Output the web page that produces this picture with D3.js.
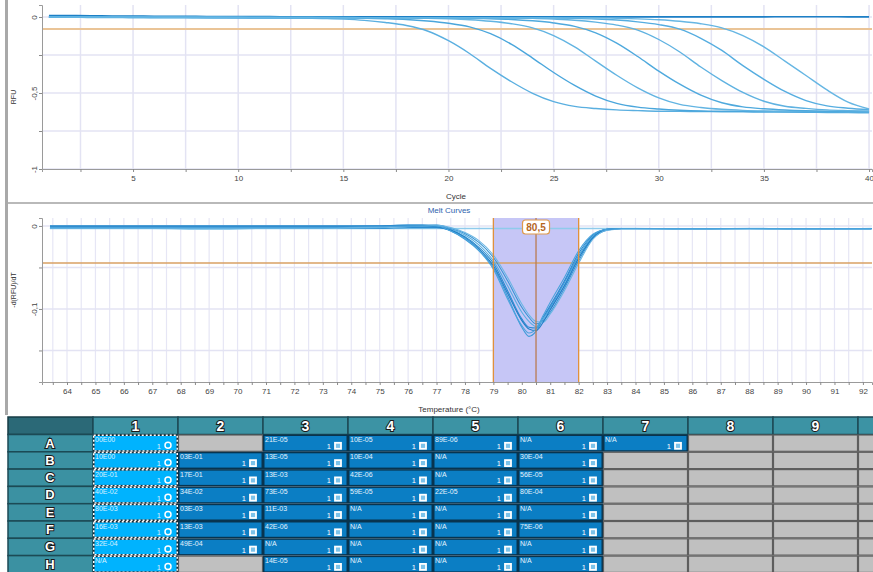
<!DOCTYPE html>
<html>
<head>
<meta charset="utf-8">
<script src="https://cdn.jsdelivr.net/npm/d3@7"></script>
<style>
  body { margin: 0; background: #fff; font-family: "Liberation Sans", Arial, sans-serif; }
  svg { display: block; }
</style>
</head>
<body>
<script>
// ---------- Amplification data (RFU per cycle) ----------
const cycles = [1,2,3,4,5,6,7,8,9,10,11,12,13,14,15,16,17,18,19,20,
                21,22,23,24,25,26,27,28,29,30,31,32,33,34,35,36,37,38,39,40];

const ampA = [-0.002,-0.002,-0.003,-0.003,-0.003,-0.004,-0.004,-0.004,-0.005,-0.005,-0.005,-0.006,-0.007,-0.010,-0.014,-0.022,-0.036,-0.056,-0.092,-0.156,
              -0.240,-0.338,-0.426,-0.502,-0.557,-0.588,-0.602,-0.611,-0.616,-0.620,-0.621,-0.622,-0.623,-0.624,-0.625,-0.626,-0.627,-0.628,-0.629,-0.630];
const ampB = [-0.001,-0.002,-0.002,-0.002,-0.003,-0.003,-0.003,-0.004,-0.004,-0.004,-0.005,-0.005,-0.005,-0.006,-0.006,-0.008,-0.011,-0.016,-0.026,-0.041,
              -0.065,-0.110,-0.180,-0.270,-0.365,-0.450,-0.520,-0.568,-0.593,-0.605,-0.613,-0.618,-0.620,-0.621,-0.622,-0.623,-0.624,-0.625,-0.626,-0.627];
const ampC = [-0.001,-0.001,-0.002,-0.002,-0.002,-0.003,-0.003,-0.003,-0.003,-0.004,-0.004,-0.004,-0.004,-0.005,-0.005,-0.005,-0.005,-0.006,-0.008,-0.012,
              -0.018,-0.028,-0.044,-0.071,-0.122,-0.196,-0.290,-0.383,-0.466,-0.532,-0.575,-0.595,-0.607,-0.614,-0.618,-0.620,-0.621,-0.622,-0.623,-0.624];
const ampD = [-0.001,-0.001,-0.001,-0.002,-0.002,-0.002,-0.002,-0.003,-0.003,-0.003,-0.003,-0.004,-0.004,-0.004,-0.004,-0.005,-0.005,-0.005,-0.005,-0.006,
              -0.008,-0.011,-0.016,-0.025,-0.039,-0.062,-0.104,-0.172,-0.260,-0.356,-0.442,-0.514,-0.564,-0.591,-0.604,-0.612,-0.617,-0.620,-0.621,-0.622];
const ampE = [0.000,-0.001,-0.001,-0.001,-0.002,-0.002,-0.002,-0.002,-0.003,-0.003,-0.003,-0.003,-0.003,-0.004,-0.004,-0.004,-0.004,-0.004,-0.005,-0.005,
              -0.005,-0.006,-0.007,-0.009,-0.014,-0.021,-0.034,-0.053,-0.086,-0.148,-0.230,-0.329,-0.418,-0.496,-0.554,-0.587,-0.601,-0.611,-0.616,-0.620];
const ampF = [0.000,0.000,-0.001,-0.001,-0.001,-0.002,-0.002,-0.002,-0.002,-0.003,-0.003,-0.003,-0.003,-0.003,-0.004,-0.004,-0.004,-0.004,-0.004,-0.005,
              -0.005,-0.005,-0.005,-0.006,-0.007,-0.009,-0.013,-0.020,-0.032,-0.050,-0.080,-0.140,-0.220,-0.320,-0.410,-0.490,-0.550,-0.585,-0.600,-0.610];
const ampG = [0.001,0.000,0.000,-0.001,-0.001,-0.001,-0.002,-0.002,-0.002,-0.002,-0.003,-0.003,-0.003,-0.003,-0.003,-0.004,-0.004,-0.004,-0.004,-0.004,
              -0.005,-0.005,-0.005,-0.005,-0.005,-0.006,-0.006,-0.008,-0.012,-0.018,-0.028,-0.044,-0.071,-0.122,-0.196,-0.290,-0.385,-0.480,-0.560,-0.605];
const ampH = [0.009,0.009,0.008,0.007,0.006,0.005,0.004,0.004,0.003,0.003,0.003,0.002,0.002,0.002,0.002,0.002,0.002,0.002,0.001,0.001,
              0.001,0.001,0.001,0.001,0.001,0.001,0.001,0.001,0.001,0.001,0.001,0.001,0.001,0.001,0.001,0.002,0.002,0.002,0.001,0.001];

const ampSeries = [ampA, ampB, ampC, ampD, ampE, ampF, ampG];
const ampColors = ["#5aafe0", "#4aa6dc", "#62b4e2", "#4ea9dd", "#5fb2e1", "#55ade0", "#66b6e3"];
const ampThreshold = -0.079;
const ampXTicks = [2.5,5,7.5,10,12.5,15,17.5,20,22.5,25,27.5,30,32.5,35,37.5,40];
const ampYTicks = [0,-0.25,-0.5,-0.75,-1];

// ---------- Melt data (-d(RFU)/dT per temperature) ----------
const meltTemps = [63.4,65,67,69,71,73,75,76,76.5,77,77.5,78,78.5,79,79.5,80,80.25,80.5,80.75,81,81.5,82,82.5,83,83.5,84,86,88,90,92.3];

const meltA = [0.000,0.000,0.000,0.000,0.000,0.000,0.000,0.001,0.001,-0.001,-0.006,-0.016,-0.030,-0.050,-0.085,-0.122,-0.133,-0.127,-0.112,-0.098,-0.068,-0.036,-0.012,-0.004,-0.003,-0.003,-0.003,-0.003,-0.003,-0.003];
const meltB = [-0.003,-0.003,-0.003,-0.003,-0.003,-0.003,-0.003,-0.002,-0.002,-0.002,-0.005,-0.013,-0.026,-0.045,-0.078,-0.112,-0.122,-0.123,-0.110,-0.096,-0.066,-0.033,-0.011,-0.004,-0.003,-0.003,-0.004,-0.003,-0.004,-0.004];
const meltC = [0.000,0.000,0.000,0.000,0.000,0.000,0.000,0.000,0.000,0.000,-0.004,-0.011,-0.023,-0.042,-0.072,-0.104,-0.115,-0.121,-0.112,-0.100,-0.071,-0.038,-0.013,-0.004,-0.003,-0.003,-0.003,-0.003,-0.003,-0.003];
const meltD = [-0.001,-0.001,-0.001,-0.001,-0.001,-0.001,0.000,0.001,0.001,0.001,-0.003,-0.009,-0.020,-0.038,-0.066,-0.098,-0.110,-0.118,-0.114,-0.104,-0.075,-0.042,-0.015,-0.005,-0.003,-0.003,-0.003,-0.003,-0.003,-0.003];
const meltE = [-0.003,-0.003,-0.003,-0.003,-0.003,-0.003,-0.002,-0.001,0.000,0.001,-0.002,-0.008,-0.018,-0.035,-0.062,-0.094,-0.107,-0.115,-0.116,-0.106,-0.078,-0.045,-0.016,-0.005,-0.004,-0.004,-0.004,-0.004,-0.004,-0.004];
const meltF = [0.000,0.000,0.000,0.000,0.000,0.000,0.000,0.000,0.000,-0.001,-0.005,-0.014,-0.028,-0.048,-0.081,-0.114,-0.124,-0.126,-0.116,-0.101,-0.072,-0.039,-0.014,-0.004,-0.003,-0.003,-0.003,-0.003,-0.003,-0.003];
const meltG = [-0.002,-0.002,-0.002,-0.002,-0.002,-0.002,-0.001,0.000,0.000,0.000,-0.006,-0.015,-0.030,-0.052,-0.088,-0.120,-0.129,-0.124,-0.108,-0.092,-0.062,-0.030,-0.010,-0.004,-0.003,-0.003,-0.003,-0.003,-0.003,-0.003];
const meltH = [-0.003,-0.003,-0.003,-0.004,-0.003,-0.003,-0.003,-0.003,-0.003,-0.003,-0.003,-0.003,-0.003,-0.003,-0.003,-0.003,-0.003,-0.003,-0.003,-0.003,-0.003,-0.003,-0.003,-0.003,-0.003,-0.003,-0.004,-0.003,-0.004,-0.003];

const meltSeries = [meltA, meltB, meltC, meltD, meltE, meltF, meltG];
const meltColors = ["#3d9ad8", "#2a8bd0", "#58aee0", "#3894d4", "#6bb6e3", "#1f7fc6", "#4aa3dc"];
const meltThreshold = -0.0446;
const meltRange = [79, 82];
const meltPeak = 80.5;
const meltYTicks = [0,-0.05,-0.1,-0.15];

// ---------- Plate data ----------
const plateRows = ["A","B","C","D","E","F","G","H"];
const plateCols = ["1","2","3","4","5","6","7","8","9","10"];
const wellCol1 = ["00E00","10E00","20E-01","40E-02","80E-03","16E-03","32E-04","N/A"];
const wellCol2 = [null,"03E-01","17E-01","34E-02","03E-03","13E-03","49E-04",null];
const wellCol3 = ["21E-05","13E-05","13E-03","73E-05","11E-03","42E-06","N/A","14E-05"];
const wellCol4 = ["10E-05","10E-04","42E-06","59E-05","N/A","N/A","N/A","N/A"];
const wellCol5 = ["89E-06","N/A","N/A","22E-05","N/A","N/A","N/A","N/A"];
const wellCol6 = ["N/A","30E-04","56E-05","80E-04","N/A","75E-06","N/A","N/A"];
const wellCol7 = ["N/A",null,null,null,null,null,null,null];
const wellEmpty = [null,null,null,null,null,null,null,null];
const plateWells = [wellCol1, wellCol2, wellCol3, wellCol4, wellCol5, wellCol6, wellCol7, wellEmpty, wellEmpty, wellEmpty];

// comma decimal like the instrument software
const fmt = d => String(d).replace(".", ",");

const svg = d3.select("body").append("svg")
    .attr("width", 873)
    .attr("height", 572);

// window frame
svg.append("rect").attr("x", 5).attr("y", 0).attr("width", 3).attr("height", 415).attr("fill", "#a9a9a9");
svg.append("rect").attr("x", 8).attr("y", 202).attr("width", 865).attr("height", 2).attr("fill", "#b9b9b9");

const defs = svg.append("defs");
defs.append("clipPath").attr("id", "clipAmp").append("rect")
    .attr("x", 42).attr("y", 3).attr("width", 831).attr("height", 167);
defs.append("clipPath").attr("id", "clipMelt").append("rect")
    .attr("x", 42).attr("y", 217).attr("width", 831).attr("height", 166);

function styleAxis(g){
    g.selectAll("path.domain").attr("stroke", "#9a9a9a");
    g.selectAll(".tick line").attr("stroke", "#8a8a8a");
    g.selectAll("text").attr("fill", "#444").style("font-size", "8px")
        .style("font-family", "'Liberation Sans', Arial, sans-serif");
}

function rotateYLabels(g){
    g.selectAll("text")
        .attr("x", 0).attr("y", -5).attr("dy", 0)
        .attr("transform", "rotate(-90)")
        .style("text-anchor", "middle");
}

// ================= Amplification chart =================
const xAmp = d3.scaleLinear().domain([0.67, 40.14]).range([42, 872]);
const yAmp = d3.scaleLinear().domain([-1, 0.079]).range([169, 5]);
const amp = svg.append("g");

amp.selectAll(".vgrid").data(ampXTicks).join("line")
    .attr("x1", d => xAmp(d)).attr("x2", d => xAmp(d))
    .attr("y1", 5).attr("y2", 169)
    .attr("stroke", "#e3e3f3").attr("stroke-width", 1.5);
amp.selectAll(".hgrid").data(ampYTicks).join("line")
    .attr("x1", 42).attr("x2", 872)
    .attr("y1", d => yAmp(d)).attr("y2", d => yAmp(d))
    .attr("stroke", "#e3e3f3").attr("stroke-width", 1.5);

// threshold
amp.append("line")
    .attr("x1", 42).attr("x2", 872)
    .attr("y1", yAmp(ampThreshold)).attr("y2", yAmp(ampThreshold))
    .attr("stroke", "#eac497").attr("stroke-width", 2);

const ampLine = d3.line()
    .x((d, i) => xAmp(cycles[i]))
    .y(d => yAmp(d))
    .curve(d3.curveMonotoneX);

const ampCurves = amp.append("g").attr("clip-path", "url(#clipAmp)");
ampCurves.append("path")
    .attr("d", ampLine(ampH))
    .attr("fill", "none").attr("stroke", "#1d80c6").attr("stroke-width", 1.6);
ampCurves.selectAll(".ampCurve").data(ampSeries).join("path")
    .attr("class", "ampCurve")
    .attr("d", d => ampLine(d))
    .attr("fill", "none")
    .attr("stroke", (d, i) => ampColors[i])
    .attr("stroke-width", 1.4);

amp.append("g")
    .attr("transform", "translate(0,169)")
    .call(d3.axisBottom(xAmp).tickValues(ampXTicks).tickSize(3)
        .tickFormat(d => d % 5 === 0 ? d : ""))
    .call(styleAxis);

amp.append("g")
    .attr("transform", "translate(42,0)")
    .call(d3.axisLeft(yAmp).tickValues(ampYTicks).tickSize(3)
        .tickFormat(d => d % 0.5 === 0 ? fmt(d) : ""))
    .call(styleAxis)
    .call(rotateYLabels);

amp.append("text")
    .attr("transform", "translate(16,97) rotate(-90)")
    .attr("text-anchor", "middle")
    .attr("fill", "#333").style("font-size", "7px")
    .text("RFU");

amp.append("text")
    .attr("x", 456).attr("y", 199)
    .attr("text-anchor", "middle")
    .attr("fill", "#333").style("font-size", "8px")
    .text("Cycle");

// ================= Melt chart =================
const xMelt = d3.scaleLinear().domain([63.12, 92.32]).range([42, 872]);
const yMelt = d3.scaleLinear().domain([-0.188, 0.0096]).range([382, 218]);
const meltXTicks = d3.range(63.5, 92.01, 0.5);
const melt = svg.append("g");

melt.append("text")
    .attr("x", 449).attr("y", 213)
    .attr("text-anchor", "middle")
    .attr("fill", "#2d62ad").style("font-size", "8px")
    .text("Melt Curves");

melt.selectAll(".vgrid").data(meltXTicks).join("line")
    .attr("x1", d => xMelt(d)).attr("x2", d => xMelt(d))
    .attr("y1", 218).attr("y2", 382)
    .attr("stroke", "#e6e6f5").attr("stroke-width", 1.2);
melt.selectAll(".hgrid").data(meltYTicks).join("line")
    .attr("x1", 42).attr("x2", 872)
    .attr("y1", d => yMelt(d)).attr("y2", d => yMelt(d))
    .attr("stroke", "#e3e3f3").attr("stroke-width", 1.5);

// selected peak region
melt.append("rect")
    .attr("x", xMelt(meltRange[0])).attr("y", 218)
    .attr("width", xMelt(meltRange[1]) - xMelt(meltRange[0]))
    .attr("height", 164)
    .attr("fill", "#c6c6f6");

melt.append("line")
    .attr("x1", 42).attr("x2", 872)
    .attr("y1", yMelt(meltThreshold)).attr("y2", yMelt(meltThreshold))
    .attr("stroke", "#d9a063").attr("stroke-width", 1.3);

const meltLine = d3.line()
    .x((d, i) => xMelt(meltTemps[i]))
    .y(d => yMelt(d))
    .curve(d3.curveMonotoneX);

const meltCurves = melt.append("g").attr("clip-path", "url(#clipMelt)");
meltCurves.append("path")
    .attr("d", meltLine(meltH))
    .attr("fill", "none").attr("stroke", "#8fcbec").attr("stroke-width", 1.6);
meltCurves.selectAll(".meltCurve").data(meltSeries).join("path")
    .attr("class", "meltCurve")
    .attr("d", d => meltLine(d))
    .attr("fill", "none")
    .attr("stroke", (d, i) => meltColors[i])
    .attr("stroke-width", 1.1);

// range borders + peak marker
melt.selectAll(".rangeLine").data(meltRange).join("line")
    .attr("x1", d => xMelt(d)).attr("x2", d => xMelt(d))
    .attr("y1", 218).attr("y2", 382)
    .attr("stroke", "#e0913d").attr("stroke-width", 1.3);
melt.append("line")
    .attr("x1", xMelt(meltPeak)).attr("x2", xMelt(meltPeak))
    .attr("y1", 218).attr("y2", 382)
    .attr("stroke", "#b97b52").attr("stroke-width", 1.3);

melt.append("rect")
    .attr("x", xMelt(meltPeak) - 13.5).attr("y", 220)
    .attr("width", 27).attr("height", 14).attr("rx", 3)
    .attr("fill", "#fff").attr("stroke", "#df9a4c").attr("stroke-width", 1.2);
melt.append("text")
    .attr("x", xMelt(meltPeak)).attr("y", 231)
    .attr("text-anchor", "middle")
    .attr("fill", "#b4661e").style("font-size", "10px").style("font-weight", "bold")
    .text(fmt(meltPeak));

melt.append("g")
    .attr("transform", "translate(0,382)")
    .call(d3.axisBottom(xMelt).tickValues(meltXTicks).tickSize(3)
        .tickFormat(d => Number.isInteger(d) ? d : ""))
    .call(styleAxis);

melt.append("g")
    .attr("transform", "translate(42,0)")
    .call(d3.axisLeft(yMelt).tickValues(meltYTicks).tickSize(3)
        .tickFormat(d => Math.round(d * 100) % 10 === 0 ? fmt(+d.toFixed(2)) : ""))
    .call(styleAxis)
    .call(rotateYLabels);

melt.append("text")
    .attr("transform", "translate(16,290) rotate(-90)")
    .attr("text-anchor", "middle")
    .attr("fill", "#333").style("font-size", "7px")
    .text("-d(RFU)/dT");

melt.append("text")
    .attr("x", 449).attr("y", 412)
    .attr("text-anchor", "middle")
    .attr("fill", "#333").style("font-size", "8px")
    .text("Temperature (°C)");

// ================= Plate view =================
const colX = d3.scaleBand().domain(plateCols).range([93, 943]);
const rowY = d3.scaleBand().domain(plateRows).range([434.5, 434.5 + 8 * 17.3]);
const plate = svg.append("g");
const headTop = 417;

plate.append("rect")
    .attr("x", 8).attr("y", headTop).attr("width", 85).attr("height", 17.5)
    .attr("fill", "#2b6977").attr("stroke", "#173c46").attr("stroke-width", 1.5);

plate.selectAll(".colHead").data(plateCols).join("rect")
    .attr("x", d => colX(d)).attr("y", headTop)
    .attr("width", colX.bandwidth()).attr("height", 17.5)
    .attr("fill", "#3c93a4").attr("stroke", "#1c4a55").attr("stroke-width", 1.5);

// only headers whose label falls inside the window are visible
plate.selectAll(".colHeadText")
    .data(plateCols.filter(d => colX(d) + colX.bandwidth() / 2 < 873))
    .join("text")
    .attr("x", d => colX(d) + colX.bandwidth() / 2).attr("y", headTop + 14)
    .attr("text-anchor", "middle")
    .attr("fill", "#fff").attr("stroke", "#1a1a1a").attr("stroke-width", 2)
    .attr("paint-order", "stroke")
    .style("font-size", "14px").style("font-weight", "bold")
    .text(d => d);

plate.selectAll(".rowHead").data(plateRows).join("rect")
    .attr("x", 8).attr("y", d => rowY(d))
    .attr("width", 85).attr("height", rowY.bandwidth())
    .attr("fill", "#3b91a2").attr("stroke", "#1c4a55").attr("stroke-width", 1.5);
plate.selectAll(".rowHeadText").data(plateRows).join("text")
    .attr("x", 50).attr("y", d => rowY(d) + 13)
    .attr("text-anchor", "middle")
    .attr("fill", "#fff").attr("stroke", "#1a1a1a").attr("stroke-width", 2)
    .attr("paint-order", "stroke")
    .style("font-size", "13px").style("font-weight", "bold")
    .text(d => d);

const wells = [];
plateCols.forEach((c, ci) => {
    plateRows.forEach((r, ri) => {
        wells.push({ col: c, row: r, label: plateWells[ci][ri] });
    });
});

const cell = plate.selectAll(".well").data(wells).join("g")
    .attr("transform", d => "translate(" + colX(d.col) + "," + rowY(d.row) + ")");

const cw = colX.bandwidth(), ch = rowY.bandwidth();

// empty wells
cell.filter(d => d.label === null).append("rect")
    .attr("x", 0.5).attr("y", 0.5).attr("width", cw - 1).attr("height", ch - 1)
    .attr("fill", "#c0c0c0").attr("stroke", "#5e5e5e").attr("stroke-width", 1.2);

// filled wells
const filled = cell.filter(d => d.label !== null);
filled.append("rect")
    .attr("x", 0.75).attr("y", 0.75).attr("width", cw - 1.5).attr("height", ch - 1.5)
    .attr("fill", d => d.col === "1" ? "#00b3fe" : "#0b7ec4")
    .attr("stroke", d => d.col === "1" ? "#1b2b33" : "#08344f")
    .attr("stroke-width", 1.5);

// selected column: dashed white outline
filled.filter(d => d.col === "1").append("rect")
    .attr("x", 0.75).attr("y", 0.75).attr("width", cw - 1.5).attr("height", ch - 1.5)
    .attr("fill", "none").attr("stroke", "#fff").attr("stroke-width", 1.5)
    .attr("stroke-dasharray", "2,2");

filled.append("text")
    .attr("x", 2).attr("y", 7.5)
    .attr("fill", d => d.col === "1" ? "#d8f1ff" : "#e4f2fc")
    .style("font-size", "7px")
    .text(d => d.label);

filled.append("text")
    .attr("x", cw - 17).attr("y", ch - 3)
    .attr("text-anchor", "end")
    .attr("fill", d => d.col === "1" ? "#d8f1ff" : "#fff")
    .style("font-size", "7.5px")
    .text("1");

filled.filter(d => d.col !== "1").append("rect")
    .attr("x", cw - 13).attr("y", ch - 9).attr("width", 6).attr("height", 6)
    .attr("fill", "#7cc3ea").attr("stroke", "#fff").attr("stroke-width", 1.8);

filled.filter(d => d.col === "1").append("circle")
    .attr("cx", cw - 10).attr("cy", ch - 6.5).attr("r", 3)
    .attr("fill", "none").attr("stroke", "#fff").attr("stroke-width", 1.5);
</script>
</body>
</html>
